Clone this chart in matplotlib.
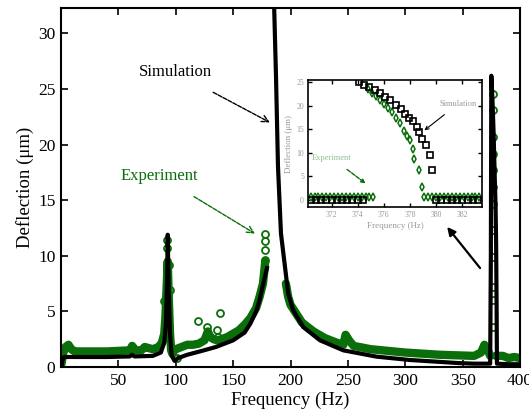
import matplotlib
matplotlib.use("Agg")
import matplotlib.pyplot as plt
import numpy as np

plt.rcParams['font.family'] = ['Liberation Serif', 'DejaVu Serif']

# ---- main plot data ----
# simulation curve, nan = gap between branches
sim_f = [0.5, 1.5, 3, 20, 40, 60, 62, 64, 80, 87, 90, 91.5, 92.5, 93, 93.8, 95, 96.5, 99,
         102, 110, 121, 135, 150, 160, 165, 170, 173, 176, 179.5,
         np.nan,
         185.6, 187.4, 189.1, 191.7, 195.2, 198, 202.4, 211, 225.7, 246, 275, 304, 347,
         360, 374, 374.6, 375, 376, 377, 378, 378.7, 379.2, 379.6, 379.9, 390, 400]
sim_v = [0.1, 0.8, 0.9, 0.9, 0.9, 0.95, 1.1, 0.95, 1.0, 1.3, 2.2, 4.0, 8.0, 11.9, 7.0, 3.0, 1.0, 0.55,
         0.8, 1.1, 1.4, 1.8, 2.4, 3.1, 3.9, 5.0, 6.0, 7.4, 8.9,
         np.nan,
         33.0, 26.0, 18.0, 12.0, 9.0, 6.6, 5.1, 3.6, 2.4, 1.5, 0.93, 0.63, 0.35,
         0.3, 0.3, 10.0, 26.2, 24.0, 21.0, 17.0, 14.5, 11.0, 5.5, 0.3, 0.25, 0.25]

# experiment band (dense circles)
exp_f = [0.5, 2, 4, 6.5, 9, 12, 20, 30, 40, 50, 60, 62, 65, 70, 73, 80, 85, 88, 90, 91, 92, 93,
         94, 95, 96, 97, 98, 100, 105, 110, 115, 120, 125, 128, 130, 133, 136, 140, 145, 150,
         155, 160, 165, 170, 173, 176, 178,
         np.nan,
         196, 198, 200, 205, 210, 220, 230, 240, 246, 248, 251, 255, 270, 300, 330, 360, 366,
         369, 372, 374,
         np.nan,
         379, 385, 390, 395, 400]
exp_v = [0.3, 1.3, 1.8, 2.0, 1.6, 1.4, 1.4, 1.4, 1.4, 1.45, 1.5, 1.9, 1.5, 1.5, 1.8, 1.6, 1.8, 2.2, 3.0, 4.5, 7.0, 9.5,
         6.0, 3.0, 1.5, 1.2, 1.4, 1.6, 1.8, 2.0, 2.0, 2.1, 2.4, 3.2, 2.7, 2.5, 2.4, 2.5, 2.7, 3.0,
         3.3, 3.8, 4.4, 5.3, 6.3, 7.5, 9.5,
         np.nan,
         7.5, 6.3, 5.6, 4.8, 4.0, 3.2, 2.6, 2.2, 2.0, 2.9, 2.4, 1.9, 1.6, 1.3, 1.1, 1.0, 1.3,
         2.0, 1.5, 1.0,
         np.nan,
         1.0, 1.0, 0.8, 0.9, 0.8]

# isolated experiment circles
pts_f = [92.3, 92.5, 93.7, 94.6, 89.4, 101, 119.6, 138.7, 127, 135.8, 137, 150,
         177.8, 177.8, 177.8, 177.8,
         376.2, 376.4, 376.6, 376.3, 376.8, 376.5, 376.7, 376.4, 376.9, 376.6, 376.5, 376.8]
pts_v = [11.4, 10.7, 9.2, 6.9, 5.9, 0.8, 4.1, 4.85, 3.6, 3.3, 2.7, 3.0,
         12.0, 11.3, 10.5, 9.6,
         24.6, 23.1, 20.7, 19.2, 17.7, 16.2, 14.7, 12.3, 9.9, 7.2, 6.0, 3.6]

# ---- inset data ----
ins_sim_f = [370.4, 370.8, 371.2, 371.6, 372.0, 372.4, 372.8, 373.2, 373.6, 374.0, 374.4,
             374.1, 374.5, 374.9, 375.3, 375.7, 376.1, 376.5, 376.9, 377.3, 377.6, 377.9,
             378.2, 378.5, 378.7, 378.9, 379.2, 379.5, 379.65,
             380.0, 380.4, 380.8, 381.2, 381.6, 382.0, 382.4, 382.8, 383.2]
ins_sim_v = [0, 0, 0, 0, 0, 0, 0, 0, 0, 0, 0,
             25.0, 24.5, 24.0, 23.4, 22.8, 21.8, 21.2, 20.2, 19.3, 18.3, 17.5,
             16.7, 15.6, 14.5, 12.9, 11.6, 9.6, 6.3,
             0, 0, 0, 0, 0, 0, 0, 0, 0]
ins_exp_f = [370.4, 370.7, 371.0, 371.3, 371.6, 371.9, 372.2, 372.5, 372.8, 373.1, 373.4,
             373.7, 374.0, 374.3, 374.6, 374.9, 375.2,
             374.8, 375.1, 375.4, 375.7, 376.0, 376.3, 376.6, 376.9, 377.2, 377.5, 377.8,
             378.0, 378.2, 378.3, 378.7, 378.9,
             379.1, 379.4, 379.7, 380.0, 380.3, 380.6, 380.9, 381.2, 381.5, 381.8, 382.1,
             382.4, 382.7, 383.0, 383.3]
ins_exp_v = [0.6, 0.6, 0.6, 0.6, 0.6, 0.6, 0.6, 0.6, 0.6, 0.6, 0.6,
             0.6, 0.6, 0.6, 0.6, 0.6, 0.6,
             23.5, 22.8, 22.2, 21.2, 20.5, 19.6, 18.6, 17.4, 16.3, 14.7, 13.5,
             12.8, 10.9, 8.8, 6.3, 2.8,
             0.6, 0.6, 0.6, 0.6, 0.6, 0.6, 0.6, 0.6, 0.6, 0.6, 0.6,
             0.6, 0.6, 0.6, 0.6]

green = '#0a6e0a'

fig = plt.figure(figsize=(5.29, 4.19), dpi=100)
ax = fig.add_axes([0.1153, 0.1241, 0.8677, 0.857])

ax.plot(exp_f, exp_v, color=green, lw=6, solid_capstyle='round', zorder=2)
ax.plot(pts_f, pts_v, 'o', mfc='none', mec=green, ms=5, mew=1.3, zorder=3)
ax.plot(sim_f, sim_v, color='black', lw=3, zorder=4)

ax.set_xlim(0, 400)
ax.set_ylim(0, 32.3)
ax.set_xticks([50, 100, 150, 200, 250, 300, 350, 400])
ax.set_yticks([0, 5, 10, 15, 20, 25, 30])
ax.tick_params(direction='in', top=True, right=True, length=5, width=1.2,
               labelsize=12.5, pad=4)
for s in ax.spines.values():
    s.set_linewidth(1.5)
ax.set_xlabel('Frequency (Hz)', fontsize=13.5, labelpad=2)
ax.set_ylabel('Deflection (μm)', fontsize=13.5, labelpad=3)

ax.annotate('Simulation', xy=(182, 22), xytext=(100, 26.5), fontsize=12,
            ha='center', va='center',
            arrowprops=dict(arrowstyle='->', color='black', lw=1.0, ls=(0, (3, 1)),
                            shrinkA=14, shrinkB=0))
ax.annotate('Experiment', xy=(169, 12.0), xytext=(86, 17.2), fontsize=12,
            color=green, ha='center', va='center',
            arrowprops=dict(arrowstyle='->', color=green, lw=1.0, ls=(0, (3, 1)),
                            shrinkA=14, shrinkB=0))
ax.annotate('', xy=(336.5, 12.6), xytext=(365.2, 8.9),
            arrowprops=dict(arrowstyle='-|>', color='black', lw=1.6,
                            mutation_scale=12, shrinkA=0, shrinkB=0))

# ---- inset ----
ins = fig.add_axes([0.5822, 0.506, 0.329, 0.303])
ins.plot(ins_exp_f, ins_exp_v, 'd', mfc='none', mec=green, ms=4, mew=1.1, zorder=2)
ins.plot(ins_sim_f, ins_sim_v, 's', mfc='none', mec='black', ms=5, mew=1.2, zorder=3)
ins.set_xlim(370.2, 383.5)
ins.set_ylim(-1.5, 25.5)
ins.set_xticks([372, 374, 376, 378, 380, 382])
ins.set_yticks([0, 5, 10, 15, 20, 25])
ins.tick_params(direction='in', top=True, right=True, length=3, width=1.0,
                labelsize=5.5, labelcolor='#999999', pad=3)
for s in ins.spines.values():
    s.set_linewidth(1.2)
ins.set_xlabel('Frequency (Hz)', fontsize=6.5, color='#999999', labelpad=2)
ins.set_ylabel('Deflection (μm)', fontsize=6.5, color='#999999', labelpad=2)
ins.annotate('Simulation', xy=(379.1, 14.8), xytext=(381.7, 20.5), fontsize=6,
             color='#999999', ha='center', va='center',
             arrowprops=dict(arrowstyle='->', color='black', lw=0.8,
                             shrinkA=5, shrinkB=0))
ins.annotate('Experiment', xy=(374.6, 3.5), xytext=(372.0, 9.0), fontsize=6,
             color='#8fbf8f', ha='center', va='center',
             arrowprops=dict(arrowstyle='-|>', color=green, lw=1.0, ls=(0, (3, 1)),
                             shrinkA=6, shrinkB=0))

fig.savefig('out.png', dpi=100)
